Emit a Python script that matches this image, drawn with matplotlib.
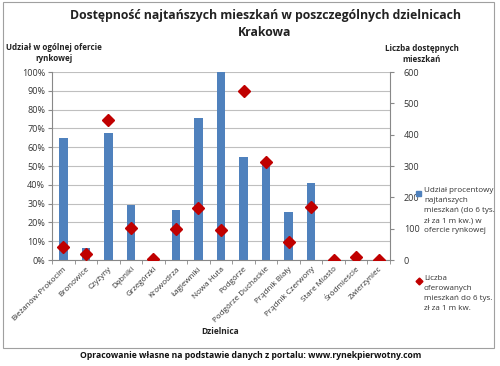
import matplotlib.pyplot as plt
import matplotlib.patches as mpatches
from matplotlib.lines import Line2D
import numpy as np

plt.rcParams['font.family'] = ['Open Sans', 'DejaVu Sans']

dzielnice = ["Bieżanów-Prokocim", "Bronowice", "Czyżyny", "Dębniki", "Grzegórzki",
             "Krowodrza", "Łagiewniki", "Nowa Huta", "Podgórze", "Podgórze Duchackie",
             "Prądnik Biały", "Prądnik Czerwony", "Stare Miasto", "Śródmieście", "Zwierzyniec"]
udzial = [65, 6.2, 67.7, 29.3, 0, 26.4, 75.7, 100, 54.6, 50.4, 25.4, 41.1, 0, 1, 0]
liczba = [40, 19, 447, 102, 4, 98, 165, 96, 539, 314, 57, 170, 0, 9, 0]

blue = '#4F81BD'
red = '#C00000'

fig = plt.figure(figsize=(5, 3.66), dpi=100)
ax = fig.add_axes([52/500, 1-260/366, 338/500, 188/366])
ax2 = ax.twinx()

x = np.arange(len(dzielnice))
ax.bar(x, udzial, width=0.38, color=blue, zorder=2)
ax2.plot(x, liczba, linestyle='none', marker='D', markersize=5.8, color=red, zorder=3)

ax.set_xlim(-0.5, len(dzielnice) - 0.5)
ax.set_ylim(0, 100)
ax2.set_ylim(0, 600)
ax.set_yticks(range(0, 101, 10))
ax.set_yticklabels([f"{v}%" for v in range(0, 101, 10)], fontsize=6.5, color='#333333')
ax2.set_yticks(range(0, 601, 100))
ax2.set_yticklabels([str(v) for v in range(0, 601, 100)], fontsize=6.5, color='#333333')
ax.yaxis.grid(True, color='#BFBFBF', linewidth=0.8, zorder=0)
ax.set_axisbelow(True)

ax.set_xticks(x)
ax.set_xticklabels(dzielnice, rotation=45, ha='right', rotation_mode='anchor', fontsize=5.8, color='#333333')
ax.set_xticks(np.arange(-0.5, len(dzielnice), 1), minor=True)
ax.tick_params(axis='x', which='major', length=0, pad=4)
ax.tick_params(axis='x', which='minor', length=3, color='#888888')
ax.tick_params(axis='y', length=3, color='#888888', pad=2)
ax2.tick_params(axis='y', length=3, color='#888888', pad=7)

for a in (ax, ax2):
    a.spines['top'].set_visible(False)
    a.spines['left'].set_color('#888888')
    a.spines['right'].set_color('#888888')
    a.spines['bottom'].set_color('#888888')
ax2.spines['left'].set_visible(False)
ax2.spines['bottom'].set_visible(False)
ax.spines['right'].set_visible(False)

fig.text(265/500, 1-16/366, "Dostępność najtańszych mieszkań w poszczególnych dzielnicach",
         ha='center', va='center', fontsize=8.8, fontweight='bold', color='#222222')
fig.text(265/500, 1-33/366, "Krakowa", ha='center', va='center', fontsize=8.8,
         fontweight='bold', color='#222222')
fig.text(54/500, 1-53/366, "Udział w ogólnej ofercie\nrynkowej", ha='center', va='center',
         fontsize=5.8, fontweight='bold', color='#222222', linespacing=1.4)
fig.text(422/500, 1-54/366, "Liczba dostępnych\nmieszkań", ha='center', va='center',
         fontsize=5.8, fontweight='bold', color='#222222', linespacing=1.4)
fig.text(220/500, 1-332/366, "Dzielnica", ha='center', va='center',
         fontsize=6, fontweight='bold', color='#222222')
fig.text(251/500, 1-356/366, "Opracowanie własne na podstawie danych z portalu: www.rynekpierwotny.com",
         ha='center', va='center', fontsize=6.2, fontweight='bold', color='#111111')

# chart area border
fig.add_artist(mpatches.Rectangle((3/500, 1-348/366), 491/500, 346/366, transform=fig.transFigure,
                                  fill=False, edgecolor='#A0A0A0', linewidth=0.8))

# legend
fig.add_artist(mpatches.Rectangle((416/500, 1-196/366), 5/500, 5/366, transform=fig.transFigure,
                                  color=blue))
fig.text(424/500, 1-187/366, "Udział procentowy\nnajtańszych\nmieszkań (do 6 tys.\nzł za 1 m kw.) w\nofercie rynkowej",
         ha='left', va='top', fontsize=5.8, color='#333333', linespacing=1.6)
fig.add_artist(Line2D([418.5/500], [1-281/366], transform=fig.transFigure, marker='D',
                      markersize=3.5, color=red, linestyle='none'))
fig.text(424/500, 1-275/366, "Liczba\noferowanych\nmieszkań do 6 tys.\nzł za 1 m kw.",
         ha='left', va='top', fontsize=5.8, color='#333333', linespacing=1.6)

fig.savefig("out.png", dpi=100)
